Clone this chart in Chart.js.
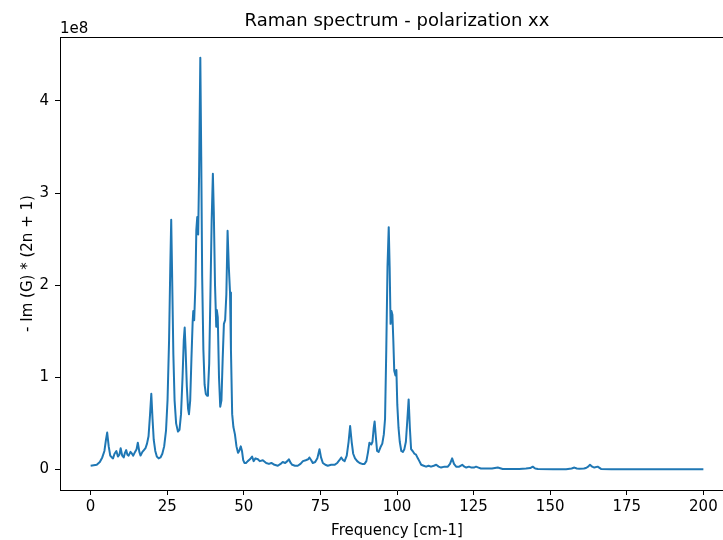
<!DOCTYPE html>
<html>
<head>
<meta charset="utf-8">
<title>Raman spectrum - polarization xx</title>
<script src="https://cdn.jsdelivr.net/npm/chart.js@4/dist/chart.umd.min.js"></script>
<style>
  html, body { margin: 0; padding: 0; background: #fff; overflow: hidden; }
  #wrap { width: 723px; height: 540px; overflow: hidden; }
</style>
</head>
<body>
<div id="wrap"><canvas id="raman" width="760" height="540"></canvas></div>
<script>
// frequencies in cm-1
const freq = [
  0, 1, 2, 3, 3.8, 4.5, 5.0, 5.4, 5.9, 6.4, 6.9, 7.3, 7.8, 8.4, 8.9, 9.4, 9.8,
  10.3, 10.8, 11.2, 11.6, 12.0, 12.4, 13.0, 13.5, 13.9, 14.5, 15.0, 15.4, 15.9,
  16.3, 16.9, 17.4, 17.9, 18.4, 18.9, 19.4, 19.8, 20.2, 20.6, 21.1, 21.6, 22.2,
  22.8, 23.4, 24.0, 24.6, 25.1, 25.6, 26.0, 26.3, 26.6, 27.0, 27.4, 27.9, 28.5,
  29.0, 29.5, 30.0, 30.4, 30.7, 31.0, 31.4, 31.8, 32.1, 32.5, 32.9, 33.3, 33.5,
  33.8, 34.2, 34.5, 34.8, 35.1, 35.4, 35.8, 36.1, 36.4, 36.8, 37.2, 37.6, 38.0,
  38.3, 38.7, 39.1, 39.5, 39.9, 40.2, 40.6, 41.0, 41.2, 41.5, 41.9, 42.3, 42.7,
  43.1, 43.5, 43.9, 44.3, 44.7, 45.1, 45.5, 45.8, 46.2, 46.6, 47.1, 47.6, 48.1,
  48.5, 49.0, 49.4, 49.8, 50.2, 50.7, 51.3, 52.0, 52.7, 53.2, 53.8, 54.6, 55.2,
  56.2, 57.3, 58.2, 59.0, 60.0, 61.1, 62.0, 62.7, 63.5, 64.2, 64.7, 65.3, 65.8,
  66.7, 67.6, 68.5, 69.3, 70.2, 71.0, 71.4, 72.0, 72.5, 73.3, 74.0, 74.7, 75.2,
  75.8, 76.6, 77.4, 78.5, 79.6, 80.5, 81.2, 81.8, 82.4, 82.9, 83.6, 84.2, 84.7,
  85.2, 85.7, 86.3, 87.0, 87.8, 88.6, 89.4, 90.0, 90.5, 91.0, 91.6, 92.0, 92.4,
  92.7, 93.1, 93.5, 94.0, 94.6, 95.2, 95.7, 96.1, 96.5, 96.9, 97.3, 97.6, 97.9,
  98.2, 98.5, 98.8, 99.1, 99.5, 99.8, 100.1, 100.5, 100.9, 101.4, 101.9, 102.4,
  102.9, 103.4, 103.8, 104.2, 104.6, 105.1, 105.7, 106.2, 106.8, 107.3, 107.9,
  108.7, 109.5, 110.3, 111.1, 112.0, 112.8, 113.6, 114.4, 115.5, 116.6, 117.3,
  118.0, 118.6, 119.3, 120.3, 121.3, 122.0, 122.6, 123.5, 124.3, 125.1, 125.8,
  126.6, 127.4, 129.1, 131.0, 132.9, 134.5, 137.0, 139.9, 142.1, 143.5, 144.3,
  145.1, 146.0, 150.9, 155.2, 157.0, 157.9, 158.7, 159.5, 161.0, 161.7, 162.4,
  163.0, 163.7, 164.4, 165.5, 166.6, 170, 180, 190, 200
];

// - Im(G) * (2n + 1), in units of 1e8
const intensity = [
  0.04, 0.045, 0.05, 0.08, 0.13, 0.2, 0.32, 0.40, 0.25, 0.15, 0.13, 0.12, 0.17, 0.2, 0.14, 0.16, 0.23,
  0.15, 0.13, 0.18, 0.21, 0.16, 0.15, 0.19, 0.17, 0.15, 0.19, 0.22, 0.29, 0.19,
  0.15, 0.19, 0.21, 0.23, 0.28, 0.36, 0.6, 0.82, 0.55, 0.32, 0.2, 0.14, 0.12,
  0.13, 0.17, 0.25, 0.42, 0.75, 1.4, 2.2, 2.71, 2.1, 1.25, 0.75, 0.5, 0.41,
  0.43, 0.6, 1.0, 1.4, 1.54, 1.3, 0.9, 0.66, 0.6, 0.75, 1.2, 1.6, 1.72,
  1.62, 2.0, 2.6, 2.74, 2.55, 3.2, 4.47, 3.4, 2.1, 1.3, 0.92, 0.82, 0.8,
  0.85, 1.15, 1.9, 2.7, 3.21, 2.8, 2.0, 1.55, 1.73, 1.65, 1.0, 0.68, 0.75,
  1.2, 1.58, 1.62, 1.9, 2.59, 2.2, 1.92, 1.3, 0.6, 0.46, 0.38, 0.25, 0.18,
  0.2, 0.25, 0.2, 0.1, 0.07, 0.07, 0.09, 0.11, 0.14, 0.09, 0.12, 0.11, 0.09,
  0.1, 0.07, 0.06, 0.07, 0.05, 0.04, 0.06, 0.08, 0.07, 0.09, 0.11, 0.07, 0.05,
  0.04, 0.04, 0.06, 0.09, 0.1, 0.11, 0.13, 0.1, 0.07, 0.08, 0.12, 0.22, 0.13,
  0.07, 0.05, 0.04, 0.05, 0.05, 0.07, 0.1, 0.13, 0.1, 0.09, 0.15, 0.3, 0.47,
  0.3, 0.17, 0.12, 0.09, 0.07, 0.06, 0.06, 0.09, 0.18, 0.29, 0.27, 0.3, 0.45,
  0.52, 0.35, 0.2, 0.19, 0.24, 0.28, 0.38, 0.55, 1.3, 2.2, 2.63, 2.2, 1.58,
  1.72, 1.68, 1.4, 1.07, 1.02, 1.08, 0.7, 0.45, 0.3, 0.2, 0.19, 0.22,
  0.3, 0.55, 0.76, 0.45, 0.22, 0.2, 0.17, 0.16, 0.12, 0.09, 0.05,
  0.04, 0.03, 0.04, 0.03, 0.04, 0.05, 0.03, 0.02, 0.03, 0.03, 0.06,
  0.12, 0.06, 0.03, 0.03, 0.05, 0.03, 0.02, 0.03, 0.02, 0.02, 0.03,
  0.02, 0.01, 0.01, 0.01, 0.02, 0.005, 0.005, 0.005, 0.01, 0.015, 0.03,
  0.01, 0.005, 0.003, 0.003, 0.01, 0.02, 0.01, 0.008, 0.01, 0.015, 0.03,
  0.05, 0.03, 0.02, 0.03, 0.005, 0.002, 0.001, 0.001, 0.001
];

const xTicks = [0, 25, 50, 75, 100, 125, 150, 175, 200];
const yTicks = [0, 1, 2, 3, 4];

const chartTitle = 'Raman spectrum - polarization xx';
const xLabel = 'Frequency [cm-1]';
const yLabel = '- Im (G) * (2n + 1)';
const yOffsetText = '1e8';

const FONT = "'DejaVu Sans', sans-serif";

// matplotlib-like frame: top/right spines, offset text and title
const framePlugin = {
  id: 'frame',
  afterDraw(chart) {
    const { ctx, chartArea } = chart;
    ctx.save();
    ctx.strokeStyle = '#000';
    ctx.lineWidth = 1;
    ctx.beginPath();
    ctx.moveTo(chartArea.left, chartArea.top + 0.5);
    ctx.lineTo(chartArea.right, chartArea.top + 0.5);
    ctx.moveTo(chartArea.right - 0.5, chartArea.top);
    ctx.lineTo(chartArea.right - 0.5, chartArea.bottom);
    ctx.stroke();

    ctx.fillStyle = '#000';
    ctx.font = '15px ' + FONT;
    ctx.textAlign = 'left';
    ctx.textBaseline = 'alphabetic';
    ctx.fillText(yOffsetText, chartArea.left, chartArea.top - 4);

    ctx.font = '18px ' + FONT;
    ctx.textAlign = 'center';
    ctx.fillText(chartTitle, (chartArea.left + chartArea.right) / 2, chartArea.top - 11);
    ctx.restore();
  }
};

const ctx = document.getElementById('raman').getContext('2d');
new Chart(ctx, {
  type: 'line',
  data: {
    datasets: [{
      data: freq.map((f, i) => ({ x: f, y: intensity[i] })),
      borderColor: '#1f77b4',
      borderWidth: 2,
      borderJoinStyle: 'round',
      pointRadius: 0,
      tension: 0,
      fill: false
    }]
  },
  options: {
    responsive: false,
    animation: false,
    layout: { padding: { top: 37, right: 26, left: 0, bottom: 0 } },
    plugins: {
      legend: { display: false },
      tooltip: { enabled: false },
      title: { display: false }
    },
    scales: {
      x: {
        type: 'linear',
        min: -10,
        max: 210,
        afterBuildTicks: s => { s.ticks = xTicks.map(v => ({ value: v })); },
        afterFit: s => { s.height = 50; },
        grid: { drawOnChartArea: false, drawTicks: true, tickLength: 5, color: '#000' },
        border: { color: '#000', width: 1 },
        ticks: { color: '#000', font: { family: FONT, size: 15 }, padding: 3, maxRotation: 0, autoSkip: false },
        title: { display: true, text: xLabel, color: '#000', font: { family: FONT, size: 15 }, padding: { top: 0, bottom: 0 } }
      },
      y: {
        type: 'linear',
        min: -0.2235,
        max: 4.694,
        afterBuildTicks: s => { s.ticks = yTicks.map(v => ({ value: v })); },
        afterFit: s => { s.width = 60; },
        grid: { drawOnChartArea: false, drawTicks: true, tickLength: 5, color: '#000' },
        border: { color: '#000', width: 1 },
        ticks: { color: '#000', font: { family: FONT, size: 15 }, padding: 6, autoSkip: false },
        title: { display: true, text: yLabel, color: '#000', font: { family: FONT, size: 15 }, padding: { top: 19, bottom: 0 } }
      }
    }
  },
  plugins: [framePlugin]
});
</script>
</body>
</html>
